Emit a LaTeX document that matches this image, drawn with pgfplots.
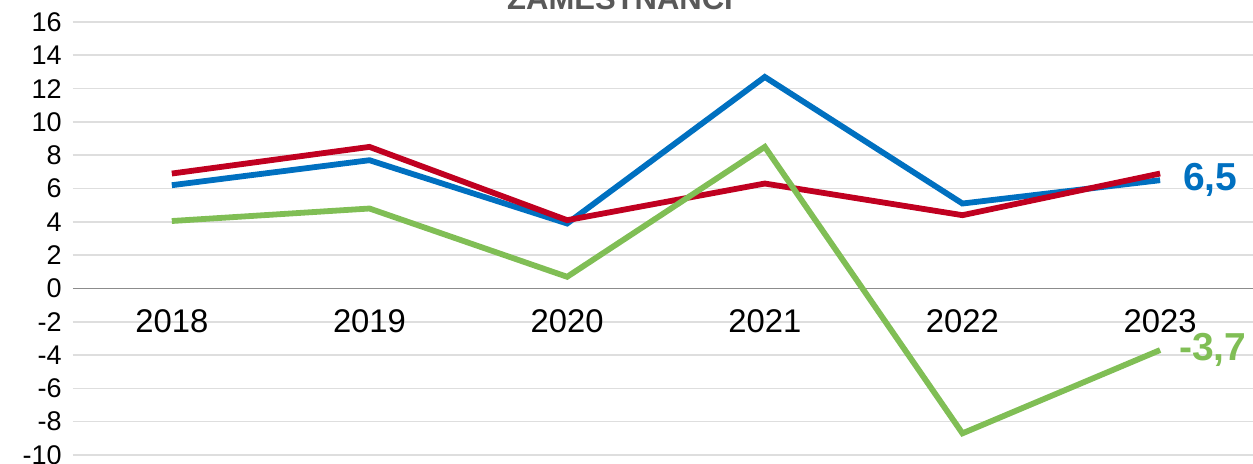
\documentclass[border=0pt]{standalone}
\usepackage{pgfplots}
\pgfplotsset{compat=1.18}
\usepackage{fontspec}
\setmainfont{Liberation Sans}
\definecolor{cblue}{RGB}{0,112,192}
\definecolor{cred}{RGB}{192,0,32}
\definecolor{cgreen}{RGB}{128,190,85}
\definecolor{ctitle}{RGB}{89,89,89}
\begin{document}
\begin{tikzpicture}
\useasboundingbox (-36.5pt,-4.5pt) rectangle (590pt,227.5pt);
\clip (-36.5pt,-4.5pt) rectangle (590pt,227.5pt);
\begin{axis}[
  at={(0,0)}, anchor=south west,
  scale only axis, width=590pt, height=216.5pt,
  xmin=-0.5, xmax=5.47, ymin=-10, ymax=16,
  ytick={-10,-8,-6,-4,-2,0,2,4,6,8,10,12,14,16},
  yticklabels={-10,-8,-6,-4,-2,0,2,4,6,8,10,12,14,16},
  xtick={0,1,2,3,4,5},
  xticklabels={2018,2019,2020,2021,2022,2023},
  axis x line*=middle, axis y line*=left,
  y axis line style={draw=none},
  x axis line style={draw=black!45, line width=0.8pt},
  major tick length=0pt,
  ymajorgrids,
  grid style={black!13, line width=0.8pt},
  clip=false,
  yticklabel style={font=\fontsize{13.5}{14}\selectfont, inner sep=0pt, xshift=-5.5pt},
  xticklabel style={font=\fontsize{16.4}{17}\selectfont, yshift=-7pt},
]
\addplot[cblue, line width=2.9pt] coordinates {(0,6.2) (1,7.7) (2,3.9) (3,12.7) (4,5.1) (5,6.5)};
\addplot[cred, line width=2.9pt] coordinates {(0,6.9) (1,8.5) (2,4.1) (3,6.3) (4,4.4) (5,6.9)};
\addplot[cgreen, line width=2.9pt] coordinates {(0,4.05) (1,4.8) (2,0.7) (3,8.5) (4,-8.7) (5,-3.7)};
\node[anchor=west, text=cblue, font=\fontsize{19.5}{20}\selectfont\bfseries] at (axis cs:5,6.5) {\hspace{8pt}6,5};
\node[anchor=west, text=cgreen, font=\fontsize{19.5}{20}\selectfont\bfseries] at (axis cs:5,-3.7) {\hspace{6pt}-3,7};
\end{axis}
\node[anchor=base, text=ctitle, font=\fontsize{15.5}{16}\selectfont\bfseries] at (273.5pt,222.5pt) {ZAMĚSTNANCI};
\end{tikzpicture}
\end{document}
